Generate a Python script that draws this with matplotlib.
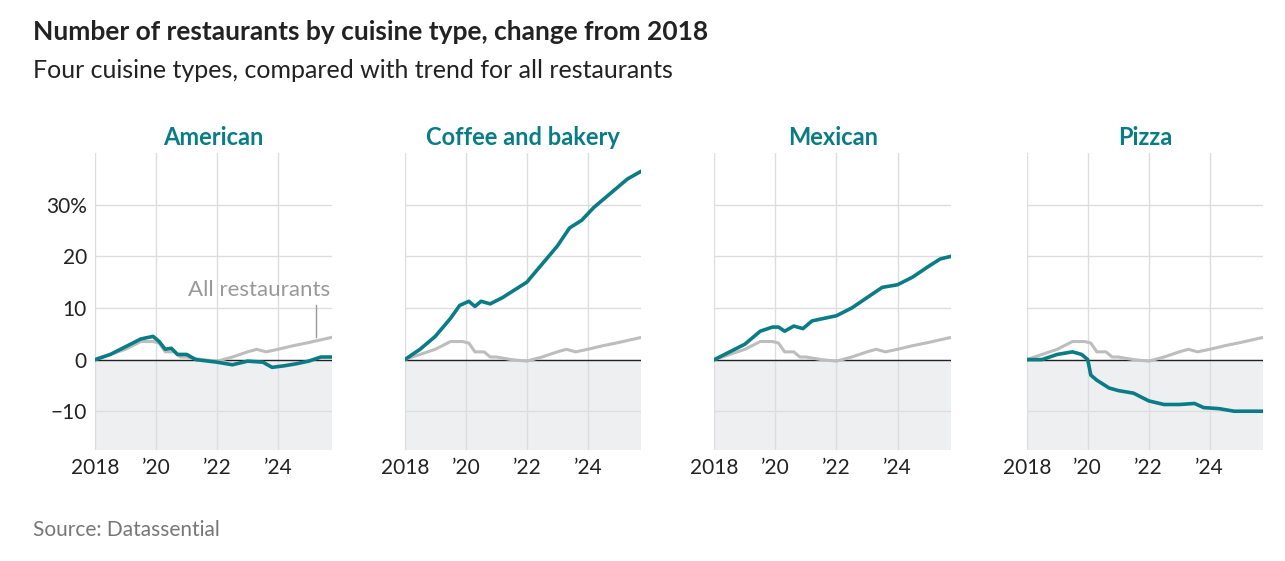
import matplotlib
matplotlib.use('Agg')
import matplotlib.pyplot as plt
import numpy as np

plt.rcParams['font.family'] = ['Lato', 'DejaVu Sans']

TEAL = '#0a7c85'
GREY = '#bdbdbd'

panels = ['American', 'Coffee and bakery', 'Mexican', 'Pizza']

all_x = [2018, 2018.5, 2019, 2019.5, 2019.9, 2020.1, 2020.3, 2020.6, 2020.8, 2021, 2021.5,
         2022, 2022.5, 2023, 2023.3, 2023.6, 2024, 2024.5, 2025, 2025.75]
all_y = [0, 1, 2, 3.5, 3.5, 3.2, 1.5, 1.5, 0.5, 0.5, 0, -0.3, 0.5, 1.5, 2, 1.5, 2, 2.7, 3.3, 4.3]

american_x = [2018, 2018.5, 2019, 2019.5, 2019.9, 2020.1, 2020.3, 2020.5, 2020.7, 2021, 2021.3,
              2022, 2022.5, 2023, 2023.5, 2023.8, 2024.2, 2024.6, 2025, 2025.4, 2025.75]
american_y = [0, 1, 2.5, 4, 4.5, 3.5, 2, 2.2, 1, 1, 0, -0.5, -1, -0.3, -0.5, -1.5, -1.2, -0.8, -0.3, 0.5, 0.5]

coffee_x = [2018, 2018.5, 2019, 2019.5, 2019.8, 2020.1, 2020.3, 2020.5, 2020.8, 2021.2, 2021.6,
            2022, 2022.5, 2023, 2023.4, 2023.8, 2024.2, 2024.7, 2025, 2025.3, 2025.75]
coffee_y = [0, 2, 4.5, 8, 10.5, 11.3, 10.3, 11.3, 10.8, 12, 13.5, 15, 18.5, 22, 25.5, 27, 29.5,
            32, 33.5, 35, 36.5]

mexican_x = [2018, 2018.5, 2019, 2019.5, 2019.9, 2020.1, 2020.3, 2020.6, 2020.9, 2021.2, 2021.6,
             2022, 2022.5, 2023, 2023.5, 2024, 2024.5, 2025, 2025.4, 2025.75]
mexican_y = [0, 1.5, 3, 5.5, 6.3, 6.3, 5.5, 6.5, 6, 7.5, 8, 8.5, 10, 12, 14, 14.5, 16, 18, 19.5, 20]

pizza_x = [2018, 2018.5, 2019, 2019.5, 2019.8, 2020, 2020.1, 2020.3, 2020.7, 2021, 2021.5,
           2022, 2022.5, 2023, 2023.5, 2023.8, 2024.3, 2024.8, 2025.3, 2025.75]
pizza_y = [0, 0, 1, 1.5, 1, 0, -3, -4, -5.5, -6, -6.5, -8, -8.7, -8.7, -8.5, -9.3, -9.5, -10, -10, -10]

series = [(american_x, american_y), (coffee_x, coffee_y), (mexican_x, mexican_y), (pizza_x, pizza_y)]

x_ticks = [2018, 2020, 2022, 2024]
x_labels = ['2018', "\u201920", "\u201922", "\u201924"]
y_ticks = [-10, 0, 10, 20, 30]
y_labels = ['\u221210', '0', '10', '20', '30%']

fig = plt.figure(figsize=(12.85, 5.61), dpi=100)
lefts = [0.074, 0.315, 0.556, 0.799]

for i, (name, (sx, sy)) in enumerate(zip(panels, series)):
	ax = fig.add_axes([lefts[i], 0.198, 0.184, 0.529])
	ax.set_xlim(2018, 2025.75)
	ax.set_ylim(-17.5, 40)
	ax.axhspan(-17.5, 0, color='#eeeff1', zorder=0)
	for t in x_ticks:
		ax.axvline(t, color='#dddddd', lw=1, zorder=1)
	for t in y_ticks:
		if t != 0:
			ax.axhline(t, color='#dddddd', lw=1, zorder=1)
	ax.axhline(0, color='#222222', lw=1, zorder=2)
	ax.plot(all_x, all_y, color=GREY, lw=2.2, zorder=3)
	ax.plot(sx, sy, color=TEAL, lw=2.6, zorder=4)
	for s in ax.spines.values():
		s.set_visible(False)
	ax.set_xticks(x_ticks)
	ax.set_xticklabels(x_labels, fontsize=15, color='#222222')
	ax.tick_params(length=0, pad=6)
	ax.set_yticks(y_ticks)
	if i == 0:
		ax.set_yticklabels(y_labels, fontsize=15, color='#222222')
		ax.text(2025.72, 11.5, 'All restaurants', ha='right', va='bottom',
		        fontsize=16, color='#999999')
		ax.plot([2025.25, 2025.25], [10.5, 4.3], color='#999999', lw=1)
	else:
		ax.set_yticklabels([])
	ax.set_title(name, fontsize=17, fontweight='bold', color=TEAL, pad=6)

fig.text(0.026, 0.943, 'Number of restaurants by cuisine type, change from 2018',
         fontsize=19, fontweight='bold', color='#222222', va='center')
fig.text(0.026, 0.875, 'Four cuisine types, compared with trend for all restaurants',
         fontsize=18, color='#222222', va='center')
fig.text(0.026, 0.055, 'Source: Datassential', fontsize=15, color='#777777', va='center')

fig.savefig('out.png', dpi=100)
